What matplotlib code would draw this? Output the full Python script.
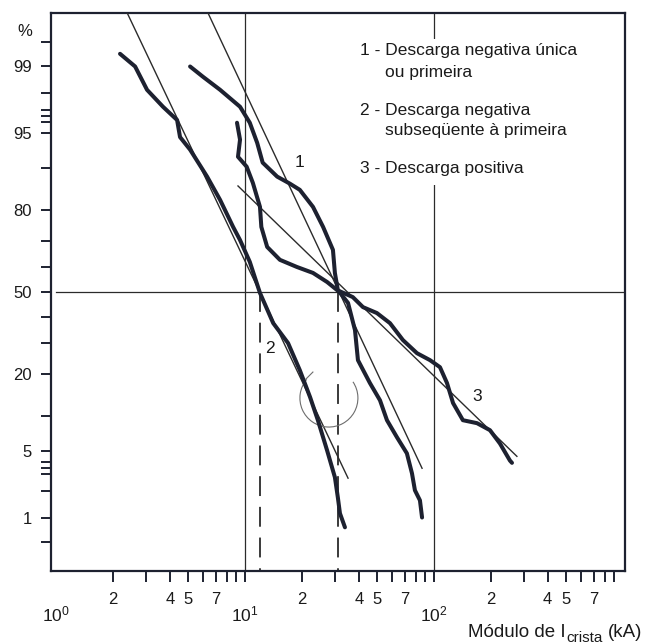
import numpy as np
import matplotlib
matplotlib.use("Agg")
import matplotlib.pyplot as plt
from matplotlib.patches import Arc, Rectangle
from matplotlib.transforms import ScaledTranslation
from statistics import NormalDist

plt.rcParams['font.family'] = ['Liberation Sans', 'DejaVu Sans']
plt.rcParams['mathtext.fontset'] = 'custom'
plt.rcParams['mathtext.rm'] = 'Liberation Sans'
plt.rcParams['mathtext.it'] = 'Liberation Sans:italic'

# ---------------- data ----------------
# curve 1 - first / single negative stroke (measured)
c1_ka = [5.12, 5.99, 7.38, 9.41, 10.6, 11.6, 12.4, 14.8, 17.3, 19.5, 22.9, 25.9, 29.2,
         29.9, 31.0, 35.1, 38.2, 39.6, 45.8, 51.8, 56.4, 63.7, 71.9, 76.5, 79.3, 84.3, 86.5]
c1_pct = [99.0, 98.68, 98.15, 97.2, 95.96, 93.8, 90.9, 88.3, 86.8, 85.4, 81.0, 74.9, 66.8,
          57.8, 50.8, 45.5, 34.7, 24.1, 17.4, 13.2, 9.3, 6.7, 4.8, 3.07, 2.04, 1.58, 1.0]
# curve 2 - subsequent negative stroke (measured)
c2_ka = [2.18, 2.62, 3.03, 3.68, 4.37, 4.45, 4.53, 5.12, 6.30, 7.38, 8.65, 9.41, 10.6,
         12.0, 14.1, 16.9, 19.5, 22.1, 24.3, 27.2, 29.9, 31.0, 31.8, 33.8]
c2_pct = [99.3, 99.0, 98.15, 97.2, 96.2, 95.4, 94.5, 92.9, 88.3, 82.9, 74.9, 70.4, 62.2,
          49.6, 37.4, 29.9, 21.0, 13.9, 9.3, 5.1, 2.8, 1.7, 1.12, 0.76]
# curve 3 - positive stroke (measured)
c3_ka = [9.07, 9.41, 9.18, 10.2, 11.0, 12.0, 12.2, 13.1, 15.3, 18.8, 22.9, 27.2, 30.7,
         37.2, 42.1, 49.9, 58.5, 68.5, 81.3, 95.3, 107.6, 117.2, 126.2, 142.3, 169.0,
         197.9, 223.5, 252.5, 258.8]
c3_pct = [95.96, 94.2, 91.85, 90.2, 87.0, 81.0, 74.9, 67.9, 63.0, 60.2, 57.8, 54.1, 50.8,
          47.9, 43.8, 41.4, 37.4, 31.0, 26.4, 24.1, 21.9, 17.4, 12.6, 9.3, 8.8,
          7.7, 5.9, 4.1, 3.9]
# fitted log-normal straight lines (end points)
f1_ka, f1_pct = [6.37, 86.5], [99.8, 3.45]
f2_ka, f2_pct = [2.38, 35.1], [99.8, 2.74]
f3_ka, f3_pct = [9.18, 274.8], [86.3, 4.5]
# medians (dashed)
median_ka = [12.0, 31.0]
median_pct = 50
# reference grid lines
grid_ka = [10, 100]
# circle mark
circle_ka, circle_pct = 27.8, 13.7
# curve number labels (kA, %)
lab_text = ['1', '2', '3']
lab_ka = [19.5, 13.6, 169.0]
lab_pct = [91.0, 28.0, 14.0]

y_major = [1, 5, 20, 50, 80, 95, 99]
y_minor = [0.5, 2, 3, 3.5, 4, 10, 30, 40, 60, 70, 90, 96, 96.5, 97, 98, 99.5]
x_major = [1, 10, 100]
x_major_labels = ['$10^{0}$', '$10^{1}$', '$10^{2}$']
x_minor = [2, 3, 4, 5, 6, 7, 8, 9, 20, 30, 40, 50, 60, 70, 80, 90,
           200, 300, 400, 500, 600, 700, 800, 900]
x_minor_labels = ['2', '', '4', '5', '', '7', '', '',
                  '2', '', '4', '5', '', '7', '', '',
                  '2', '', '4', '5', '', '7', '', '']

legend_items = [("1 - ", "Descarga negativa única", "ou primeira"),
                ("2 - ", "Descarga negativa", "subseqüente à primeira"),
                ("3 - ", "Descarga positiva", None)]

# ---------------- probability scale ----------------
_nd = NormalDist()
_ppf = np.vectorize(_nd.inv_cdf, otypes=[float])
_cdf = np.vectorize(_nd.cdf, otypes=[float])

def fwd(p):
    p = np.clip(np.asarray(p, dtype=float) / 100.0, 1e-9, 1 - 1e-9)
    return _ppf(p)

def inv(z):
    return _cdf(np.asarray(z, dtype=float)) * 100.0

W, H = 652, 643
fig = plt.figure(figsize=(W / 100, H / 100), dpi=100)
ax = fig.add_axes([51 / W, (H - 571) / H, (625 - 51) / W, (571 - 13) / H])
ax.set_xscale('log')
ax.set_yscale('function', functions=(fwd, inv))
ax.set_xlim(0.94, 1026)
ax.set_ylim(0.2, 99.8)

ink = '#1d2130'
thin = '#2b2b2b'
txt = '#1a1a1a'

for s in ax.spines.values():
    s.set_linewidth(1.6)
    s.set_color(ink)

# grid reference lines
for g in grid_ka:
    ax.axvline(g, color=thin, lw=0.9, zorder=1)
ax.plot([1.0, 1026], [50, 50], color=thin, lw=0.9, zorder=1)

# legend white background
ax.add_patch(Rectangle(((350 - 51) / 574, (571 - 185) / 558), 260 / 574, 146 / 558,
                       transform=ax.transAxes, facecolor='white', edgecolor='none', zorder=1.5))

# medians
for m in median_ka:
    ax.plot([m, m], [median_pct, 0.2], color=thin, lw=1.3, dashes=(11, 6), zorder=2,
            clip_on=False)

# fitted lines
for kx, py in [(f1_ka, f1_pct), (f2_ka, f2_pct), (f3_ka, f3_pct)]:
    ax.plot(kx, py, color=thin, lw=1.0, zorder=3)

# measured curves
for kx, py in [(c1_ka, c1_pct), (c2_ka, c2_pct), (c3_ka, c3_pct)]:
    ax.plot(kx, py, color=ink, lw=2.9, solid_capstyle='round', solid_joinstyle='round',
            zorder=4)

# circle mark (open at the top)
tr = fig.dpi_scale_trans + ScaledTranslation(circle_ka, circle_pct, ax.transData)
ax.add_patch(Arc((0, 0), 0.58, 0.58, theta1=140, theta2=394,
                 transform=tr, color='#6d6d6d', lw=0.8, zorder=3))
ax.plot([-0.23, -0.16], [0.19, 0.26], transform=tr, color='#6d6d6d', lw=0.8, zorder=3)

# curve labels
for t, kx, py in zip(lab_text, lab_ka, lab_pct):
    ax.text(kx, py, t, fontsize=12.5, color=txt, ha='center', va='center', zorder=5)

# legend
fs_leg = 12.5
ys = [[50, 72], [110, 131], [168, None]]
for (num, l1, l2), (ya, yb) in zip(legend_items, ys):
    fig.text(360 / W, 1 - ya / H, num + l1, fontsize=fs_leg, color=txt,
             ha='left', va='center')
    if l2:
        fig.text(385 / W, 1 - yb / H, l2, fontsize=fs_leg, color=txt,
                 ha='left', va='center')

# ticks
ax.set_yticks(y_major)
ax.set_yticklabels([str(v) for v in y_major])
ax.set_yticks(y_minor, minor=True)
ax.yaxis.set_minor_formatter(matplotlib.ticker.NullFormatter())
ax.tick_params(axis='y', which='both', direction='out', length=7, width=1.4,
               color=ink, labelsize=12, labelcolor=txt, pad=7)

ax.set_xticks(x_major)
ax.set_xticklabels(x_major_labels)
ax.set_xticks(x_minor, minor=True)
ax.set_xticklabels(x_minor_labels, minor=True)
ax.tick_params(axis='x', which='major', direction='out', length=8, width=1.4,
               color=ink, labelsize=12.5, labelcolor=txt, pad=16)
ax.tick_params(axis='x', which='minor', direction='out', length=8, width=1.4,
               color=ink, labelsize=12, labelcolor=txt, pad=7)
ax.xaxis.get_major_ticks()[0].tick1line.set_visible(False)

# percent sign
fig.text(32 / W, 1 - 32 / H, '%', fontsize=12, color=txt, ha='right', va='center')

# axis title: "Módulo de I" + subscript "crista" + "(kA)", chained left to right
fig.canvas.draw()
r = fig.canvas.get_renderer()
t1 = fig.text(468 / W, 1 - 637 / H, 'Módulo de I', fontsize=13.5, color=txt,
              ha='left', va='baseline')
x1 = t1.get_window_extent(r).x1
t2 = fig.text((x1 + 1) / W, 1 - 641.5 / H, 'crista', fontsize=11, color=txt,
              ha='left', va='baseline')
x2 = t2.get_window_extent(r).x1
fig.text((x2 + 5) / W, 1 - 637 / H, '(kA)', fontsize=13.5, color=txt,
         ha='left', va='baseline')

fig.savefig('out.png', dpi=100, facecolor='white')
